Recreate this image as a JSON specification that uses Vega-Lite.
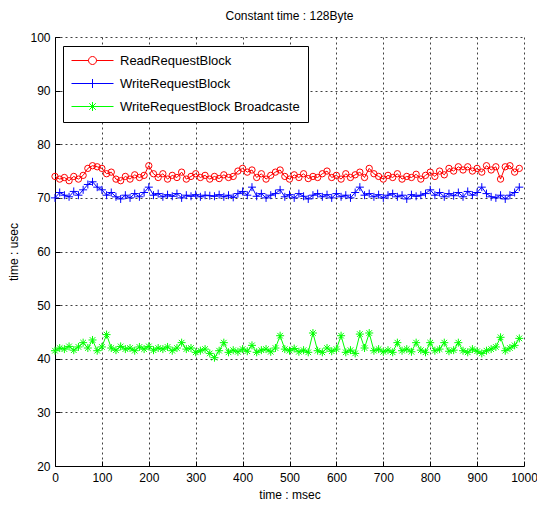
{
  "$schema": "https://vega.github.io/schema/vega-lite/v6.json",
  "width": 469,
  "height": 429,
  "autosize": {"type": "none"},
  "padding": {"left": 55, "top": 37, "right": 13, "bottom": 43},
  "background": "white",
  "config": {
    "view": {"stroke": null},
    "font": "Liberation Sans"
  },
  "title": {"text": "Constant time : 128Byte", "fontSize": 12, "fontWeight": "normal", "font": "Liberation Sans", "offset": 8, "color": "black"},
  "data": {"values": [
    {"t":0,"read":74.0,"write":70.0,"bcast":41.5},
    {"t":10,"read":73.5,"write":71.0,"bcast":42.0},
    {"t":20,"read":73.8,"write":70.5,"bcast":41.8},
    {"t":30,"read":73.2,"write":70.2,"bcast":42.3},
    {"t":40,"read":74.0,"write":71.2,"bcast":41.6},
    {"t":50,"read":73.5,"write":70.5,"bcast":42.2},
    {"t":60,"read":74.2,"write":71.5,"bcast":43.0},
    {"t":70,"read":75.5,"write":72.5,"bcast":42.0},
    {"t":80,"read":76.0,"write":73.0,"bcast":43.5},
    {"t":90,"read":75.8,"write":72.0,"bcast":41.5},
    {"t":100,"read":75.5,"write":71.5,"bcast":42.2},
    {"t":110,"read":74.5,"write":70.5,"bcast":44.5},
    {"t":120,"read":74.8,"write":71.0,"bcast":42.0},
    {"t":130,"read":73.5,"write":70.2,"bcast":41.6},
    {"t":140,"read":73.2,"write":69.8,"bcast":42.3},
    {"t":150,"read":74.0,"write":70.5,"bcast":41.8},
    {"t":160,"read":73.5,"write":70.0,"bcast":42.0},
    {"t":170,"read":74.3,"write":70.8,"bcast":41.5},
    {"t":180,"read":73.8,"write":70.2,"bcast":42.2},
    {"t":190,"read":74.2,"write":71.0,"bcast":41.8},
    {"t":200,"read":76.0,"write":72.0,"bcast":42.3},
    {"t":210,"read":74.5,"write":70.5,"bcast":41.6},
    {"t":220,"read":73.8,"write":70.8,"bcast":42.0},
    {"t":230,"read":74.5,"write":70.2,"bcast":41.8},
    {"t":240,"read":73.5,"write":70.6,"bcast":42.2},
    {"t":250,"read":74.2,"write":70.3,"bcast":41.5},
    {"t":260,"read":73.8,"write":70.8,"bcast":42.0},
    {"t":270,"read":74.8,"write":70.0,"bcast":43.0},
    {"t":280,"read":73.5,"write":70.5,"bcast":41.8},
    {"t":290,"read":74.0,"write":70.3,"bcast":42.0},
    {"t":300,"read":74.5,"write":70.6,"bcast":41.2},
    {"t":310,"read":73.8,"write":70.2,"bcast":41.5},
    {"t":320,"read":74.2,"write":70.5,"bcast":41.8},
    {"t":330,"read":73.5,"write":70.4,"bcast":41.0},
    {"t":340,"read":74.0,"write":70.3,"bcast":40.2},
    {"t":350,"read":73.6,"write":70.6,"bcast":41.5},
    {"t":360,"read":74.3,"write":70.2,"bcast":43.0},
    {"t":370,"read":73.8,"write":70.5,"bcast":41.2},
    {"t":380,"read":74.0,"write":70.1,"bcast":41.6},
    {"t":390,"read":75.0,"write":70.8,"bcast":41.3},
    {"t":400,"read":75.5,"write":71.2,"bcast":41.8},
    {"t":410,"read":74.8,"write":70.5,"bcast":41.4},
    {"t":420,"read":75.2,"write":72.0,"bcast":42.5},
    {"t":430,"read":73.8,"write":70.3,"bcast":41.2},
    {"t":440,"read":74.5,"write":70.8,"bcast":41.6},
    {"t":450,"read":73.5,"write":70.0,"bcast":41.8},
    {"t":460,"read":74.2,"write":70.5,"bcast":41.3},
    {"t":470,"read":74.8,"write":70.8,"bcast":42.0},
    {"t":480,"read":75.2,"write":71.5,"bcast":44.3},
    {"t":490,"read":74.0,"write":70.2,"bcast":41.8},
    {"t":500,"read":73.5,"write":70.6,"bcast":41.5},
    {"t":510,"read":74.3,"write":70.0,"bcast":41.9},
    {"t":520,"read":73.8,"write":70.8,"bcast":41.3},
    {"t":530,"read":74.5,"write":70.3,"bcast":41.6},
    {"t":540,"read":73.6,"write":69.8,"bcast":41.2},
    {"t":550,"read":74.0,"write":70.5,"bcast":44.8},
    {"t":560,"read":73.8,"write":70.8,"bcast":41.5},
    {"t":570,"read":74.5,"write":70.2,"bcast":41.2},
    {"t":580,"read":75.0,"write":70.6,"bcast":42.0},
    {"t":590,"read":73.8,"write":70.0,"bcast":41.4},
    {"t":600,"read":74.2,"write":70.8,"bcast":41.8},
    {"t":610,"read":73.5,"write":70.2,"bcast":44.3},
    {"t":620,"read":74.5,"write":70.5,"bcast":41.2},
    {"t":630,"read":73.8,"write":70.0,"bcast":41.6},
    {"t":640,"read":74.3,"write":71.0,"bcast":41.0},
    {"t":650,"read":74.8,"write":72.0,"bcast":44.6},
    {"t":660,"read":73.8,"write":70.5,"bcast":42.0},
    {"t":670,"read":75.5,"write":70.8,"bcast":44.8},
    {"t":680,"read":74.5,"write":70.2,"bcast":41.5},
    {"t":690,"read":74.0,"write":70.6,"bcast":41.8},
    {"t":700,"read":73.5,"write":70.0,"bcast":41.3},
    {"t":710,"read":74.2,"write":70.5,"bcast":41.6},
    {"t":720,"read":73.8,"write":70.8,"bcast":41.2},
    {"t":730,"read":74.5,"write":70.2,"bcast":43.0},
    {"t":740,"read":73.5,"write":70.5,"bcast":41.5},
    {"t":750,"read":74.0,"write":69.8,"bcast":41.8},
    {"t":760,"read":73.8,"write":70.6,"bcast":41.3},
    {"t":770,"read":74.4,"write":70.3,"bcast":43.0},
    {"t":780,"read":73.5,"write":70.5,"bcast":41.6},
    {"t":790,"read":74.2,"write":70.8,"bcast":41.2},
    {"t":800,"read":74.8,"write":71.5,"bcast":43.0},
    {"t":810,"read":74.0,"write":70.5,"bcast":41.5},
    {"t":820,"read":75.0,"write":71.0,"bcast":41.8},
    {"t":830,"read":74.3,"write":70.2,"bcast":43.0},
    {"t":840,"read":75.5,"write":70.8,"bcast":41.4},
    {"t":850,"read":75.0,"write":70.4,"bcast":41.6},
    {"t":860,"read":75.8,"write":71.0,"bcast":43.0},
    {"t":870,"read":75.2,"write":70.2,"bcast":41.5},
    {"t":880,"read":75.8,"write":71.2,"bcast":41.2},
    {"t":890,"read":75.0,"write":70.5,"bcast":41.8},
    {"t":900,"read":75.5,"write":71.0,"bcast":41.4},
    {"t":910,"read":74.8,"write":72.0,"bcast":41.0},
    {"t":920,"read":76.0,"write":70.8,"bcast":41.5},
    {"t":930,"read":75.2,"write":70.2,"bcast":41.8},
    {"t":940,"read":75.8,"write":70.0,"bcast":42.2},
    {"t":950,"read":73.5,"write":70.5,"bcast":44.0},
    {"t":960,"read":75.8,"write":69.8,"bcast":41.5},
    {"t":970,"read":76.0,"write":70.5,"bcast":42.0},
    {"t":980,"read":74.8,"write":71.0,"bcast":42.5},
    {"t":990,"read":75.5,"write":72.0,"bcast":43.8}
  ]},
  "transform": [{"fold": ["read", "write", "bcast"], "as": ["series", "v"]}],
  "encoding": {
    "x": {
      "field": "t", "type": "quantitative",
      "scale": {"domain": [0, 1000], "nice": false},
      "axis": {
        "values": [0,100,200,300,400,500,600,700,800,900,1000], "format": "d",
        "title": "time : msec", "titleFontSize": 12, "titleFontWeight": "normal", "titleColor": "black", "titlePadding": 6,
        "labelFontSize": 12, "labelColor": "black", "labelPadding": 11, "labelFlush": false,
        "grid": true, "gridDash": [2, 3], "gridColor": "black", "gridOpacity": 0.75, "gridWidth": 1,
        "domainColor": "black", "tickColor": "black", "tickSize": -5
      }
    },
    "y": {
      "field": "v", "type": "quantitative",
      "scale": {"domain": [20, 100], "nice": false, "zero": false},
      "axis": {
        "values": [20,30,40,50,60,70,80,90,100],
        "title": "time : usec", "titleFontSize": 12, "titleFontWeight": "normal", "titleColor": "black", "titlePadding": 9,
        "labelFontSize": 12, "labelColor": "black", "labelPadding": 10, "labelFlush": false,
        "grid": true, "gridDash": [2, 3], "gridColor": "black", "gridOpacity": 0.75, "gridWidth": 1,
        "domainColor": "black", "tickColor": "black", "tickSize": -5
      }
    }
  },
  "layer": [
    {
      "transform": [{"filter": "datum.series == 'read'"}],
      "mark": {"type": "line", "strokeWidth": 1, "color": "#ff0000",
        "point": {"shape": "circle", "filled": false, "color": "#ff0000", "size": 40, "strokeWidth": 1}}
    },
    {
      "transform": [{"filter": "datum.series == 'write'"}],
      "mark": {"type": "line", "strokeWidth": 1, "color": "#0000ff",
        "point": {"shape": "M-1,0H1M0,-1V1", "filled": false, "color": "#0000ff", "size": 64, "strokeWidth": 1}}
    },
    {
      "transform": [{"filter": "datum.series == 'bcast'"}],
      "mark": {"type": "line", "strokeWidth": 1, "color": "#00ff00",
        "point": {"shape": "M-1,0H1M0,-1V1M-0.7,-0.7L0.7,0.7M-0.7,0.7L0.7,-0.7", "filled": false, "color": "#00ff00", "size": 64, "strokeWidth": 1}}
    },
    {
      "mark": {"type": "point", "filled": false, "opacity": 0, "size": 100},
      "encoding": {
        "color": {
          "field": "series", "type": "nominal",
          "scale": {"domain": ["read", "write", "bcast"], "range": ["#ff0000", "#0000ff", "#00ff00"]},
          "legend": {
            "orient": "none", "legendX": 8, "legendY": 9, "title": null,
            "strokeColor": "black", "fillColor": "white", "padding": 8, "cornerRadius": 0,
            "labelFontSize": 13, "labelColor": "black", "labelLimit": 400,
            "symbolSize": 100, "symbolOffset": 15, "labelOffset": 21, "rowPadding": 9,
            "symbolStrokeWidth": 1, "symbolOpacity": 1,
            "labelExpr": "datum.value == 'read' ? 'ReadRequestBlock' : datum.value == 'write' ? 'WriteRequestBlock' : 'WriteRequestBlock Broadcaste'"
          }
        },
        "shape": {
          "field": "series", "type": "nominal",
          "scale": {"domain": ["read", "write", "bcast"], "range": [
            "M-4.2,0H-0.8M0.8,0H4.2M-0.8,0A0.8,0.8 0 1,0 0.8,0A0.8,0.8 0 1,0 -0.8,0",
            "M-4.2,0H4.2M0,-0.9V0.9",
            "M-4.2,0H4.2M0,-0.9V0.9M-0.65,-0.65L0.65,0.65M-0.65,0.65L0.65,-0.65"
          ]},
          "legend": {
            "orient": "none", "legendX": 8, "legendY": 9, "title": null,
            "strokeColor": "black", "fillColor": "white", "padding": 8, "cornerRadius": 0,
            "labelFontSize": 13, "labelColor": "black", "labelLimit": 400,
            "symbolSize": 100, "symbolOffset": 15, "labelOffset": 21, "rowPadding": 9,
            "symbolStrokeWidth": 1, "symbolOpacity": 1,
            "labelExpr": "datum.value == 'read' ? 'ReadRequestBlock' : datum.value == 'write' ? 'WriteRequestBlock' : 'WriteRequestBlock Broadcaste'"
          }
        }
      }
    }
  ]
}
